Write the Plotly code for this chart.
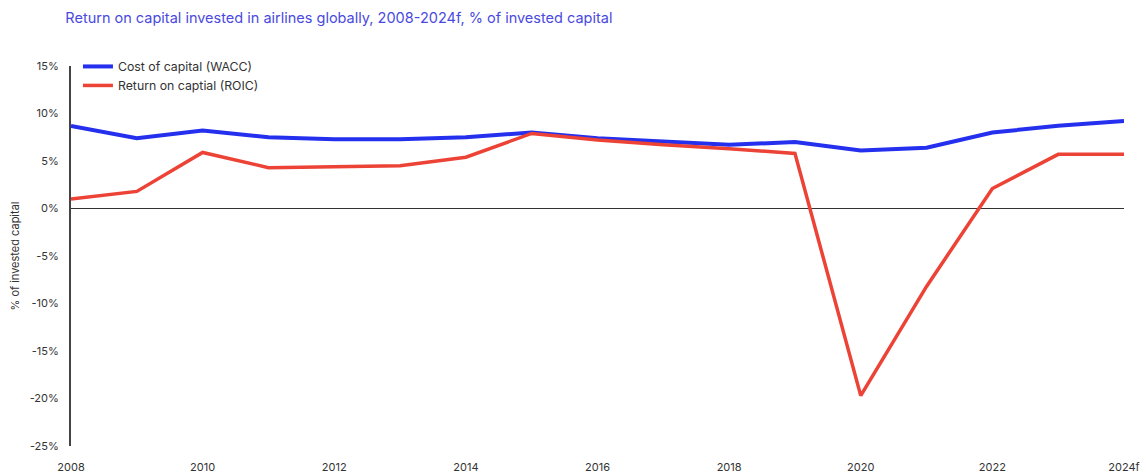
import plotly.graph_objects as go

years = list(range(2008, 2025))
wacc = [8.7, 7.4, 8.2, 7.5, 7.3, 7.3, 7.5, 8.0, 7.4, 7.0, 6.7, 7.0, 6.1, 6.4, 8.0, 8.7, 9.2]
roic = [1.0, 1.8, 5.9, 4.3, 4.4, 4.5, 5.4, 7.9, 7.2, 6.7, 6.3, 5.8, -19.7, -8.2, 2.1, 5.7, 5.7]

tick_years = [2008, 2010, 2012, 2014, 2016, 2018, 2020, 2022, 2024]
tick_labels = ["2008", "2010", "2012", "2014", "2016", "2018", "2020", "2022", "2024f"]
y_ticks = [15, 10, 5, 0, -5, -10, -15, -20, -25]
y_labels = ["15%", "10%", "5%", "0%", "-5%", "-10%", "-15%", "-20%", "-25%"]

font_family = "Inter, Roboto, sans-serif"

fig = go.Figure()
fig.add_trace(go.Scatter(
    x=years, y=wacc, mode="lines", name="Cost of capital (WACC)",
    line=dict(color="#2430ee", width=4),
))
fig.add_trace(go.Scatter(
    x=years, y=roic, mode="lines", name="Return on captial (ROIC)",
    line=dict(color="#ec4336", width=3.5),
))

fig.update_layout(
    width=1146, height=475,
    margin=dict(l=71, r=22, t=66, b=29),
    paper_bgcolor="white", plot_bgcolor="white",
    font=dict(family=font_family, size=11, color="#333333"),
    title=dict(
        text="Return on capital invested in airlines globally, 2008-2024f, % of invested capital",
        x=0.057, xanchor="left", y=0.962, yanchor="middle",
        font=dict(family=font_family, size=14.5, color="#4a4ae0"),
    ),
    legend=dict(
        x=0.0066, y=1.037, xanchor="left", yanchor="top",
        bgcolor="rgba(0,0,0,0)", font=dict(size=12.3, color="#333333"),
        tracegroupgap=2, itemwidth=30,
    ),
    showlegend=True,
)

fig.update_xaxes(
    range=[2008, 2024], tickvals=tick_years, ticktext=tick_labels,
    showgrid=False, zeroline=False, showline=False, ticks="",
    ticklabelstandoff=13, automargin=False,
    tickfont=dict(size=11, color="#333333"),
)
fig.update_yaxes(
    range=[-25, 15], tickvals=y_ticks, ticktext=y_labels,
    showgrid=False, zeroline=True, zerolinecolor="#333333", zerolinewidth=1,
    showline=True, linecolor="#444444", linewidth=2, ticks="",
    ticklabelstandoff=8, automargin=False,
    title=dict(text="% of invested capital", standoff=8, font=dict(size=11, color="#333333")),
    tickfont=dict(size=11, color="#333333"),
)

fig.write_html("out.html")
